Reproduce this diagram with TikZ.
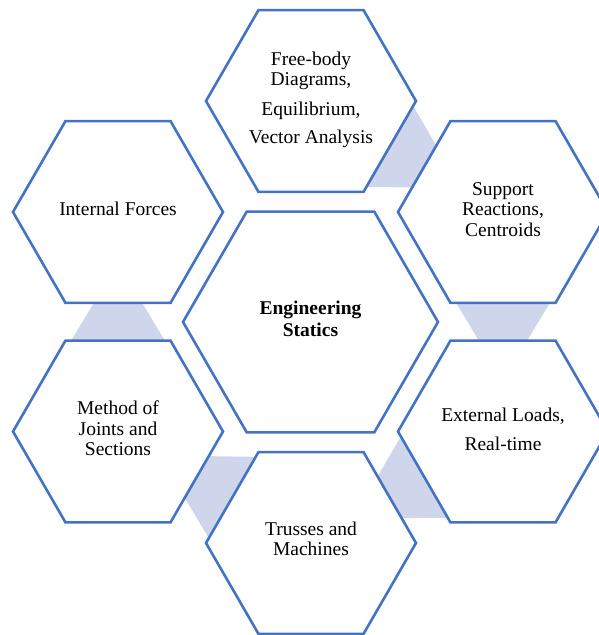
\documentclass[tikz,border=0pt]{standalone}
\usepackage{fontspec}
\setmainfont{Liberation Serif}
\usetikzlibrary{calc}
\definecolor{hexblue}{HTML}{4472C4}
\definecolor{linkfill}{HTML}{CFD5EA}
\newcommand{\hexat}[2]{%
  \draw[hexline] ($(#1)+(0:#2)$) -- ($(#1)+(60:#2)$) -- ($(#1)+(120:#2)$) --
    ($(#1)+(180:#2)$) -- ($(#1)+(240:#2)$) -- ($(#1)+(300:#2)$) -- cycle;}
\newcommand{\linkshape}[2]{%
  \fill[linkfill] ($(#1)!89pt!(#2)!48pt!90:(#2)$) -- ($(#1)!89pt!(#2)!48pt!-90:(#2)$) --
    ($(#2)!89pt!(#1)!23pt!90:(#1)$) -- ($(#2)!89pt!(#1)!23pt!-90:(#1)$) -- cycle;}
\begin{document}
\begin{tikzpicture}[x=1pt,y=-1pt,
  hexline/.style={draw=hexblue,line width=2.6pt,fill=white,line join=miter},
  hextext/.style={align=center,font=\fontsize{19.5}{20.5}\selectfont,inner sep=0pt}]
\useasboundingbox (0,0) rectangle (599,635);
\clip (0,0) rectangle (599,635);
% hexagon centres
\coordinate (cC)  at (310.5,322);
\coordinate (cT)  at (311,101);
\coordinate (cRT) at (503,212);
\coordinate (cRB) at (503,431.5);
\coordinate (cB)  at (311,543);
\coordinate (cLB) at (118,431.5);
\coordinate (cLT) at (118,212);
% connectors
\linkshape{cT}{cRT}
\linkshape{cRT}{cRB}
\linkshape{cRB}{cB}
\linkshape{cB}{cLB}
\linkshape{cLB}{cLT}
% hexagons
\hexat{cC}{127.5}
\hexat{cT}{105}
\hexat{cRT}{105}
\hexat{cRB}{105}
\hexat{cB}{105}
\hexat{cLB}{105}
\hexat{cLT}{105}
% texts
\node[hextext,font=\fontsize{19.5}{21.5}\selectfont\bfseries] (tC) at (310.5,319) {Engineering\\Statics};
\node[hextext] (tT) at (311,100) {Free-body\\Diagrams,\\[9.5pt]Equilibrium,\\[7.5pt]Vector Analysis};
\node[hextext] (tRT) at (503,209.5) {Support\\Reactions,\\Centroids};
\node[hextext] (tRB) at (503,429.5) {External Loads,\\[8.5pt]Real-time};
\node[hextext] (tB) at (311,539) {Trusses and\\Machines};
\node[hextext] (tLB) at (118,428.5) {Method of\\Joints and\\Sections};
\node[hextext] (tLT) at (118,209) {Internal Forces};
\end{tikzpicture}
\end{document}
